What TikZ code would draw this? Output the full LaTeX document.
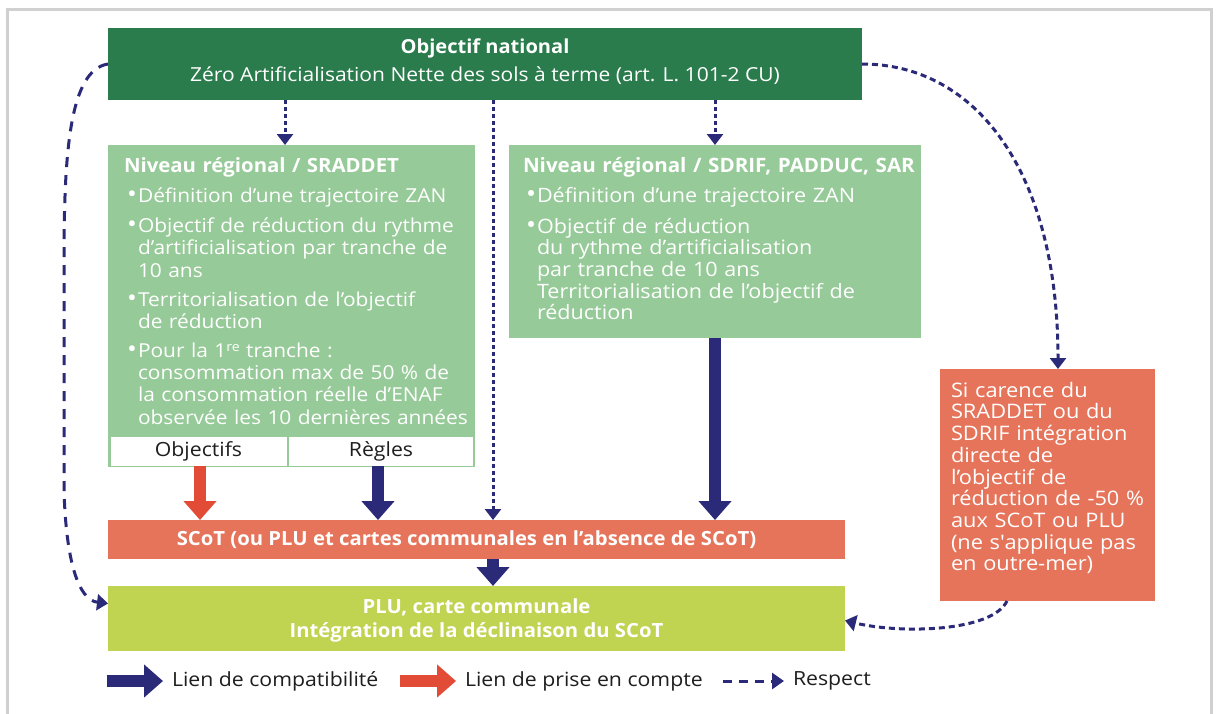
\documentclass[tikz,border=0pt]{standalone}
\usepackage{fontspec}
\usepackage{graphicx}
\setmainfont{Open Sans}[UprightFeatures={FakeStretch=1.09}, BoldFeatures={FakeStretch=1.04}]
\usetikzlibrary{arrows.meta}
\definecolor{dkgreen}{HTML}{2A7C4C}
\definecolor{ltgreen}{HTML}{96CA98}
\definecolor{orng}{HTML}{E5745A}
\definecolor{limeg}{HTML}{C0D452}
\definecolor{navy}{HTML}{2B2A78}
\definecolor{redarr}{HTML}{E24C37}
\definecolor{framegray}{HTML}{D0D0D0}
\definecolor{txtblack}{HTML}{1E1E1E}
\newcommand\bul{\hspace*{3pt}\makebox[11pt][l]{\scalebox{1.25}{\textbullet}}}
\newcommand\nl{\hfil\break}
\tikzset{
  box/.style={inner sep=0pt, outer sep=0pt, draw=none},
  txt/.style={inner sep=0pt, outer sep=0pt, text=white, anchor=north west},
  bodyfont/.style={font=\fontsize{19.2}{22.3}\selectfont},
  bignavy/.style={navy, line width=12pt, -{Triangle[width=32pt,length=19pt]}},
  bigred/.style={redarr, line width=12pt, -{Triangle[width=32pt,length=19pt]}},
  dotarr/.style={navy, line width=3pt, dash pattern=on 4pt off 3pt, -{Triangle[width=16pt,length=11pt]}},
  dasharr/.style={navy, line width=3pt, dash pattern=on 10pt off 8pt, -{Triangle[width=16pt,length=11pt]}},
  curvarr/.style={navy, line width=3pt, dash pattern=on 6pt off 4pt, -{Triangle[width=16pt,length=11pt]}},
  legfont/.style={font=\fontsize{19.5}{22}\selectfont},
}
\begin{document}
\begin{tikzpicture}[x=1pt,y=-1pt]
\useasboundingbox (0,0) rectangle (1217,713);
\fill[white] (0,0) rectangle (1217,713);
\draw[framegray, line width=3pt] (7,9) rectangle (1211,740);

% top box
\node[box, fill=dkgreen, minimum width=754pt, minimum height=72pt] (top) at (485,64) {};
\node[box, text=white, align=center, font=\fontsize{19.3}{28}\selectfont] (toptxt) at (485,62)
  {\textbf{Objectif national}\\Zéro Artificialisation Nette des sols à terme (art. L. 101-2 CU)};

% SRADDET box
\node[box, fill=ltgreen, minimum width=367pt, minimum height=322pt] (sraddet) at (291.5,306) {};
\node[txt, bodyfont, text width=362pt] (sraddettxt) at (124,157) {\raggedright
  \mbox{\fontsize{19.6}{22.3}\selectfont\textbf{Niveau régional / SRADDET}}\par\vspace{8pt}
  {\hangindent=14pt\hangafter=1\noindent\bul Définition d’une trajectoire ZAN\par}\vspace{8pt}
  {\hangindent=14pt\hangafter=1\noindent\bul Objectif de réduction du rythme\nl d’artificialisation par tranche de\nl 10 ans\par}\vspace{7pt}
  {\hangindent=14pt\hangafter=1\noindent\bul Territorialisation de l’objectif\nl de réduction\par}\vspace{6pt}
  {\hangindent=14pt\hangafter=1\noindent\bul Pour la 1{\fontsize{13}{13}\selectfont\raisebox{6pt}{re}} tranche :\nl consommation max de 50 \% de\nl la consommation réelle d’ENAF\nl observée les 10 dernières années\par}};
\node[box, fill=white, minimum width=176pt, minimum height=29pt, text=txtblack, legfont] (obj) at (198.5,451.5) {Objectifs};
\node[box, fill=white, minimum width=184pt, minimum height=29pt, text=txtblack, legfont] (regles) at (381,451.5) {Règles};

% SDRIF box
\node[box, fill=ltgreen, minimum width=412pt, minimum height=193pt] (sdrif) at (714.5,241.5) {};
\node[txt, text width=395pt, font=\fontsize{19.8}{21.6}\selectfont] (sdriftxt) at (523,157) {\raggedright
  \mbox{\textbf{Niveau régional / SDRIF, PADDUC, SAR}}\par\vspace{9pt}
  {\hangindent=14pt\hangafter=1\noindent\bul Définition d’une trajectoire ZAN\par}\vspace{9pt}
  {\hangindent=14pt\hangafter=1\noindent\bul Objectif de réduction\nl du rythme d’artificialisation\nl par tranche de 10 ans\nl Territorialisation de l’objectif de\nl réduction\par}};

% right orange box
\node[box, fill=orng, minimum width=215pt, minimum height=232pt] (carence) at (1047.5,485) {};
\node[txt, text width=205pt, font=\fontsize{20}{21.7}\selectfont] (carencetxt) at (951,382) {\raggedright
  Si carence du\\SRADDET ou du\\SDRIF intégration\\directe de\\l’objectif de\\réduction de -50 \%\\aux SCoT ou PLU\\(ne s\textquotesingle applique pas\\en outre-mer)};

% SCoT box
\node[box, fill=orng, minimum width=737pt, minimum height=39pt, text=white, font=\bfseries\fontsize{19.5}{22}\selectfont] (scot) at (476.5,539.5)
  {\hspace*{-20pt}SCoT (ou PLU et cartes communales en l’absence de SCoT)};

% PLU box
\node[box, fill=limeg, minimum width=737pt, minimum height=65pt] (plu) at (476.5,618.5) {};
\node[box, text=white, align=center, font=\bfseries\fontsize{19.5}{24}\selectfont] (plutxt) at (476.5,620)
  {PLU, carte communale\\Intégration de la déclinaison du SCoT};

% coordinates for connector ends
\coordinate (a1) at (285,145);
\coordinate (a2) at (493,520);
\coordinate (a3) at (715,145);
\coordinate (c2) at (1058,369);
\coordinate (c3) at (1007,601);

% dotted arrows from top
\draw[dotarr] (top.south -| a1) -- (a1);
\draw[dotarr] (top.south -| a2) -- (a2);
\draw[dotarr] (top.south -| a3) -- (a3);

% curved connectors
\draw[dasharr] (top.west) .. controls (70,70) and (64,150) .. (64,260) -- (64,490)
   .. controls (66,560) and (78,600) .. ([yshift=15pt]plu.west);
\draw[curvarr] (top.east) .. controls (975,64) and (1058,170) .. (c2);
\draw[curvarr] (c3) .. controls (992,632) and (900,634) .. ([yshift=-2pt]plu.east);

% thick arrows
\draw[bigred] (obj.south -| 200,0) -- (scot.north -| 200,0);
\draw[bignavy] (regles.south -| 378,0) -- (scot.north -| 378,0);
\draw[bignavy] (sdrif.south -| a3) -- (scot.north -| a3);
\draw[bignavy] (scot.south -| a2) -- (plu.north -| a2);

% legend
\coordinate (l1a) at (107,681); \coordinate (l1b) at (163,681);
\coordinate (l2a) at (400,681); \coordinate (l2b) at (456,681);
\coordinate (l3a) at (723,681); \coordinate (l3b) at (784,681);
\draw[bignavy] (l1a) -- (l1b);
\draw[bigred] (l2a) -- (l2b);
\draw[navy, line width=3pt, dash pattern=on 9pt off 7pt, -{Triangle[width=16pt,length=12pt]}] (l3a) -- (l3b);
\node[box, anchor=west, text=txtblack, legfont] (leg1) at (172,681) {Lien de compatibilité};
\node[box, anchor=west, text=txtblack, legfont] (leg2) at (465,681) {Lien de prise en compte};
\node[box, anchor=west, text=txtblack, legfont] (leg3) at (793,681) {Respect};
\end{tikzpicture}
\end{document}
